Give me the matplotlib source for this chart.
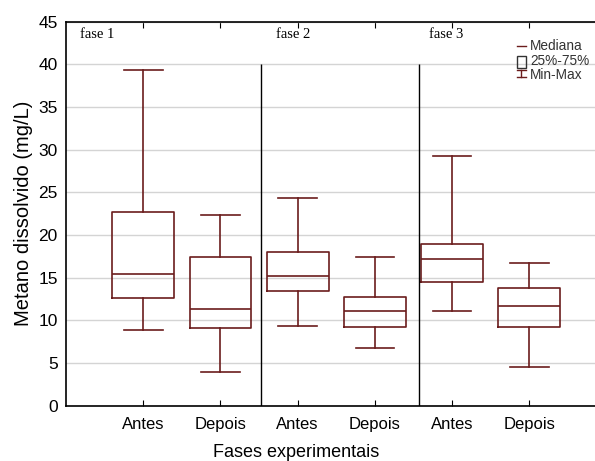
import matplotlib.pyplot as plt

# Metano dissolvido por fase (mg/L): min, Q1, mediana, Q3, max
grupos = ['Antes', 'Depois', 'Antes', 'Depois', 'Antes', 'Depois']
minimos = [8.9, 4.0, 9.3, 6.8, 11.1, 4.5]
q1 = [12.6, 9.1, 13.4, 9.2, 14.5, 9.2]
medianas = [15.4, 11.3, 15.2, 11.1, 17.2, 11.7]
q3 = [22.7, 17.4, 18.0, 12.7, 19.0, 13.8]
maximos = [39.3, 22.3, 24.3, 17.4, 29.3, 16.7]
fases = ['fase 1', 'fase 2', 'fase 3']

cor = '#6b1c1c'
plt.rcParams['font.family'] = ['Liberation Sans', 'DejaVu Sans']

stats = [dict(med=m, q1=a, q3=b, whislo=lo, whishi=hi, label=g)
         for g, lo, a, m, b, hi in zip(grupos, minimos, q1, medianas, q3, maximos)]

fig = plt.figure(figsize=(5.95, 4.61), dpi=100)
ax = fig.add_axes([0.111, 0.12, 0.889, 0.833])

ax.bxp(stats, positions=range(1, 7), widths=0.8, capwidths=0.5, showfliers=False,
       boxprops=dict(color=cor, linewidth=1.2),
       medianprops=dict(color=cor, linewidth=1.2),
       whiskerprops=dict(color=cor, linewidth=1.2),
       capprops=dict(color=cor, linewidth=1.2))

ax.set_xlim(0, 6.85)
ax.set_ylim(0, 45)
ax.set_yticks(range(0, 50, 5))
ax.yaxis.grid(True, color='#d4d4d4', linewidth=1)
ax.set_axisbelow(True)
ax.tick_params(axis='y', length=0, labelsize=12.5, pad=6)
ax.tick_params(axis='x', direction='in', length=4, top=True, labelsize=12, pad=8)
ax.spines['right'].set_visible(False)
for s in ['left', 'bottom', 'top']:
    ax.spines[s].set_linewidth(1.2)

# divisão entre fases
ax.vlines([2.53, 4.57], 0, 40, color='black', linewidth=1)
for x, t in zip([0.18, 2.72, 4.7], fases):
    ax.text(x, 43.5, t, family='Liberation Serif', fontsize=10.5, va='center')

ax.set_ylabel('Metano dissolvido (mg/L)', fontsize=14.5, labelpad=4)
ax.set_xlabel('Fases experimentais', fontsize=13)
ax.xaxis.set_label_coords(0.435, -0.10)

# legenda
tr = ax.transAxes
ax.plot([0.852, 0.869], [0.937, 0.937], color=cor, lw=1, transform=tr)
ax.add_patch(plt.Rectangle((0.852, 0.880), 0.017, 0.030, fill=False, edgecolor='#333333',
                           lw=1, transform=tr))
ax.plot([0.8605, 0.8605], [0.855, 0.874], color=cor, lw=1, transform=tr)
ax.plot([0.852, 0.869], [0.874, 0.874], color=cor, lw=1, transform=tr)
ax.plot([0.852, 0.869], [0.855, 0.855], color=cor, lw=1, transform=tr)
for y, t in zip([0.937, 0.897, 0.861], ['Mediana', '25%-75%', 'Min-Max']):
    ax.text(0.877, y, t, fontsize=9.8, va='center', color='#333333', transform=tr)

fig.savefig('out.png', dpi=100)
